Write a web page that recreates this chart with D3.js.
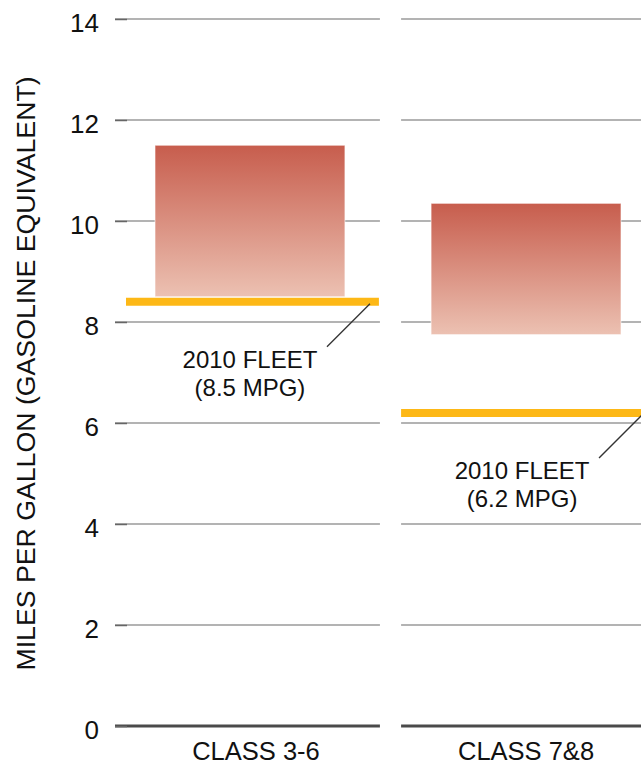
<!DOCTYPE html>
<html>
<head>
<meta charset="utf-8">
<script src="https://cdn.jsdelivr.net/npm/d3@7"></script>
<style>
  html, body { margin: 0; padding: 0; background: #fff; }
  svg { display: block; }
  text { font-family: Arial, "Liberation Sans", Helvetica, sans-serif; fill: #111; }
</style>
</head>
<body>
<svg id="chart" width="641" height="766"></svg>
<script>
// ---- data ----
const categories = ["CLASS 3-6", "CLASS 7&8"];
const rangeLow = [8.5, 7.75];
const rangeHigh = [11.5, 10.35];
const fleetMpg = [8.4, 6.2];
const fleetTitle = ["2010 FLEET", "2010 FLEET"];
const fleetText = ["(8.5 MPG)", "(6.2 MPG)"];
const yTicks = [0, 2, 4, 6, 8, 10, 12, 14];
const yTitle = "MILES PER GALLON (GASOLINE EQUIVALENT)";

// ---- layout ----
const svg = d3.select("#chart");
const y = d3.scaleLinear().domain([0, 14]).range([726, 19]);

// grid segments per category
const xGrid = d3.scaleBand().domain(categories).range([115, 666]).paddingInner(0.074).paddingOuter(0);
// bars
const xBar = d3.scaleBand().domain(categories).range([155, 621]).paddingInner(0.312).paddingOuter(0);

// gradient
const defs = svg.append("defs");
const grad = defs.append("linearGradient").attr("id", "barGrad")
  .attr("x1", 0).attr("y1", 0).attr("x2", 0).attr("y2", 1);
grad.append("stop").attr("offset", "0%").attr("stop-color", "#c75d4d");
grad.append("stop").attr("offset", "100%").attr("stop-color", "#ecc1b2");

// gridlines
const gridG = svg.append("g");
categories.forEach(c => {
  gridG.selectAll(null).data(yTicks.filter(t => t !== 0)).enter().append("line")
    .attr("x1", xGrid(c)).attr("x2", xGrid(c) + xGrid.bandwidth())
    .attr("y1", d => y(d)).attr("y2", d => y(d))
    .attr("stroke", "#9a9a9a").attr("stroke-width", 1.5);
  gridG.append("line")
    .attr("x1", xGrid(c)).attr("x2", xGrid(c) + xGrid.bandwidth())
    .attr("y1", y(0)).attr("y2", y(0))
    .attr("stroke", "#4a4a4a").attr("stroke-width", 3);
});

// y axis (ticks + labels)
const yAxis = d3.axisLeft(y).tickValues(yTicks).tickSize(-12).tickPadding(16).tickFormat(d3.format("d"));
const axG = svg.append("g").attr("transform", "translate(115,0)").call(yAxis);
axG.select(".domain").remove();
axG.selectAll(".tick line").attr("stroke", "#666").attr("stroke-width", 1.5);
axG.selectAll(".tick text")
  .attr("x", -16)
  .attr("dy", "0.48em")
  .style("font-size", "26px")
  .style("font-family", "Arial, 'Liberation Sans', sans-serif")
  .attr("fill", "#111");

// y title
svg.append("text")
  .attr("transform", `translate(35,${(y(0) + y(14)) / 2 + 1}) rotate(-90)`)
  .attr("text-anchor", "middle")
  .style("font-size", "26.7px")
  .text(yTitle);

// bars
svg.selectAll(".bar").data(categories).enter().append("rect")
  .attr("class", "bar")
  .attr("x", d => xBar(d))
  .attr("width", xBar.bandwidth())
  .attr("y", (d, i) => y(rangeHigh[i]))
  .attr("height", (d, i) => y(rangeLow[i]) - y(rangeHigh[i]))
  .attr("fill", "url(#barGrad)")
  .attr("stroke", "rgba(255,255,255,0.6)")
  .attr("stroke-width", 1);

// fleet lines
svg.selectAll(".fleet").data(categories).enter().append("line")
  .attr("class", "fleet")
  .attr("x1", (d, i) => xGrid(d) + (i === 0 ? 11 : 0))
  .attr("x2", d => xGrid(d) + xGrid.bandwidth() - 1)
  .attr("y1", (d, i) => y(fleetMpg[i]))
  .attr("y2", (d, i) => y(fleetMpg[i]))
  .attr("stroke", "#fdb816").attr("stroke-width", 8);

// annotations
categories.forEach((c, i) => {
  const cx = xBar(c) + xBar.bandwidth() / 2 - (i === 0 ? 0 : 4);
  const fy = y(fleetMpg[i]);
  svg.append("line")
    .attr("x1", cx + 120).attr("y1", fy + 2)
    .attr("x2", cx + 77).attr("y2", fy + 45)
    .attr("stroke", "#333").attr("stroke-width", 1.4);
  svg.append("text")
    .attr("x", cx).attr("y", fy + 66)
    .attr("text-anchor", "middle")
    .style("font-size", "24px")
    .text(fleetTitle[i]);
  svg.append("text")
    .attr("x", cx).attr("y", fy + 94)
    .attr("text-anchor", "middle")
    .style("font-size", "24px")
    .text(fleetText[i]);
});

// category labels
svg.selectAll(".cat").data(categories).enter().append("text")
  .attr("class", "cat")
  .attr("x", (d, i) => xBar(d) + xBar.bandwidth() / 2 + (i === 0 ? 6 : 0))
  .attr("y", 760)
  .attr("text-anchor", "middle")
  .style("font-size", "25.5px")
  .text(d => d);
</script>
</body>
</html>
